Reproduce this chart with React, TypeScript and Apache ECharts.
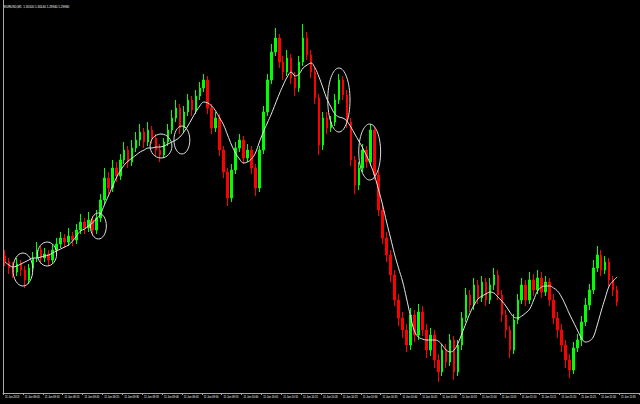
import React, { useEffect, useRef } from "react";
import * as echarts from "echarts";

const symbolName = "EURUSD,M1";

const openPrices = [
  1.3044,1.3038,1.3032,1.3028,1.3036,1.3030,1.3020,1.3032,1.3042,1.3050,
  1.3042,1.3046,1.3040,1.3050,1.3056,1.3062,1.3058,1.3064,1.3060,1.3070,
  1.3078,1.3072,1.3080,1.3070,1.3082,1.3100,1.3122,1.3112,1.3132,1.3124,
  1.3140,1.3150,1.3138,1.3152,1.3160,1.3168,1.3158,1.3170,1.3162,1.3150,
  1.3145,1.3158,1.3170,1.3182,1.3192,1.3172,1.3188,1.3200,1.3190,1.3204,
  1.3212,1.3220,1.3192,1.3172,1.3182,1.3150,1.3128,1.3102,1.3130,1.3152,
  1.3160,1.3142,1.3150,1.3132,1.3112,1.3150,1.3188,1.3220,1.3248,1.3262,
  1.3238,1.3228,1.3242,1.3222,1.3212,1.3238,1.3262,1.3245,1.3228,1.3202,
  1.3155,1.3182,1.3172,1.3178,1.3200,1.3220,1.3205,1.3178,1.3140,1.3115,
  1.3132,1.3150,1.3138,1.3170,1.3125,1.3090,1.3062,1.3045,1.3025,1.3000,
  1.2982,1.2970,1.2955,1.2985,1.2965,1.2988,1.2970,1.2950,1.2965,1.2940,
  1.2928,1.2950,1.2938,1.2960,1.2928,1.2955,1.2982,1.3005,1.2995,1.3015,
  1.3002,1.3018,1.3000,1.3015,1.3025,1.3005,1.2985,1.2970,1.2950,1.2980,
  1.3000,1.3015,1.3000,1.3020,1.3010,1.3022,1.3008,1.3018,1.3000,1.2982,
  1.2970,1.2955,1.2940,1.2930,1.2952,1.2960,1.2978,1.2995,1.3010,1.3032,
  1.3045,1.3030,1.3038,1.3020,1.3010,
];

const closePrices = [
  1.3038,1.3032,1.3028,1.3036,1.3030,1.3020,1.3032,1.3042,1.3050,1.3042,
  1.3046,1.3040,1.3050,1.3056,1.3062,1.3058,1.3064,1.3060,1.3070,1.3078,
  1.3072,1.3080,1.3070,1.3082,1.3100,1.3122,1.3112,1.3132,1.3124,1.3140,
  1.3150,1.3138,1.3152,1.3160,1.3168,1.3158,1.3170,1.3162,1.3150,1.3145,
  1.3158,1.3170,1.3182,1.3192,1.3172,1.3188,1.3200,1.3190,1.3204,1.3212,
  1.3220,1.3192,1.3172,1.3182,1.3150,1.3128,1.3102,1.3130,1.3152,1.3160,
  1.3142,1.3150,1.3132,1.3112,1.3150,1.3188,1.3220,1.3248,1.3262,1.3238,
  1.3228,1.3242,1.3222,1.3212,1.3238,1.3262,1.3245,1.3228,1.3202,1.3155,
  1.3182,1.3172,1.3178,1.3200,1.3220,1.3205,1.3178,1.3140,1.3115,1.3132,
  1.3150,1.3138,1.3170,1.3125,1.3090,1.3062,1.3045,1.3025,1.3000,1.2982,
  1.2970,1.2955,1.2985,1.2965,1.2988,1.2970,1.2950,1.2965,1.2940,1.2928,
  1.2950,1.2938,1.2960,1.2928,1.2955,1.2982,1.3005,1.2995,1.3015,1.3002,
  1.3018,1.3000,1.3015,1.3025,1.3005,1.2985,1.2970,1.2950,1.2980,1.3000,
  1.3015,1.3000,1.3020,1.3010,1.3022,1.3008,1.3018,1.3000,1.2982,1.2970,
  1.2955,1.2940,1.2930,1.2952,1.2960,1.2978,1.2995,1.3010,1.3032,1.3045,
  1.3030,1.3038,1.3020,1.3010,1.2998,
];

const highPrices = [
  1.3050,1.3042,1.3038,1.3042,1.3040,1.3034,1.3036,1.3048,1.3058,1.3054,
  1.3052,1.3050,1.3056,1.3062,1.3068,1.3066,1.3072,1.3068,1.3076,1.3086,
  1.3082,1.3088,1.3084,1.3090,1.3106,1.3132,1.3128,1.3140,1.3138,1.3146,
  1.3158,1.3154,1.3160,1.3168,1.3176,1.3172,1.3178,1.3174,1.3166,1.3156,
  1.3162,1.3176,1.3190,1.3200,1.3196,1.3194,1.3206,1.3204,1.3210,1.3218,
  1.3226,1.3224,1.3196,1.3188,1.3186,1.3154,1.3132,1.3136,1.3158,1.3166,
  1.3164,1.3156,1.3154,1.3136,1.3154,1.3194,1.3226,1.3256,1.3272,1.3266,
  1.3244,1.3250,1.3246,1.3228,1.3244,1.3276,1.3268,1.3250,1.3232,1.3206,
  1.3188,1.3188,1.3184,1.3206,1.3226,1.3224,1.3210,1.3182,1.3144,1.3138,
  1.3156,1.3154,1.3176,1.3174,1.3130,1.3094,1.3068,1.3050,1.3030,1.3006,
  1.2988,1.2976,1.2992,1.2990,1.2996,1.2994,1.2976,1.2972,1.2970,1.2946,
  1.2956,1.2956,1.2966,1.2964,1.2960,1.2988,1.3012,1.3010,1.3022,1.3020,
  1.3024,1.3022,1.3022,1.3032,1.3030,1.3010,1.2990,1.2974,1.2986,1.3006,
  1.3022,1.3020,1.3028,1.3026,1.3030,1.3028,1.3024,1.3022,1.3006,1.2988,
  1.2976,1.2960,1.2946,1.2958,1.2966,1.2984,1.3002,1.3016,1.3040,1.3054,
  1.3050,1.3044,1.3042,1.3024,1.3014,
];

const lowPrices = [
  1.3034,1.3026,1.3022,1.3024,1.3024,1.3012,1.3016,1.3028,1.3038,1.3036,
  1.3038,1.3034,1.3036,1.3046,1.3052,1.3052,1.3054,1.3054,1.3056,1.3066,
  1.3066,1.3068,1.3064,1.3066,1.3078,1.3096,1.3106,1.3108,1.3118,1.3120,
  1.3136,1.3132,1.3134,1.3148,1.3154,1.3152,1.3154,1.3156,1.3144,1.3138,
  1.3142,1.3154,1.3166,1.3178,1.3166,1.3168,1.3184,1.3184,1.3186,1.3200,
  1.3208,1.3186,1.3166,1.3168,1.3144,1.3122,1.3094,1.3098,1.3126,1.3148,
  1.3136,1.3138,1.3126,1.3104,1.3108,1.3146,1.3184,1.3216,1.3244,1.3232,
  1.3220,1.3224,1.3216,1.3204,1.3208,1.3234,1.3240,1.3222,1.3196,1.3145,
  1.3150,1.3166,1.3168,1.3174,1.3196,1.3200,1.3172,1.3134,1.3106,1.3110,
  1.3128,1.3132,1.3134,1.3120,1.3084,1.3056,1.3038,1.3018,1.2994,1.2974,
  1.2962,1.2948,1.2950,1.2958,1.2960,1.2964,1.2942,1.2944,1.2932,1.2918,
  1.2924,1.2932,1.2934,1.2920,1.2924,1.2950,1.2978,1.2988,1.2990,1.2996,
  1.2998,1.2994,1.2996,1.3010,1.3000,1.2978,1.2962,1.2942,1.2946,1.2976,
  1.2996,1.2994,1.2996,1.3004,1.3006,1.3002,1.3004,1.2994,1.2976,1.2962,
  1.2948,1.2932,1.2922,1.2926,1.2948,1.2954,1.2974,1.2990,1.3006,1.3028,
  1.3024,1.3026,1.3014,1.3004,1.2994,
];

const maLine = [
  1.3038,1.3035,1.3033,1.3034,1.3036,1.3038,1.3040,1.3042,1.3042,1.3043,
  1.3044,1.3045,1.3047,1.3049,1.3051,1.3053,1.3055,1.3059,1.3064,1.3069,
  1.3071,1.3074,1.3077,1.3081,1.3086,1.3095,1.3104,1.3113,1.3122,1.3129,
  1.3135,1.3139,1.3142,1.3145,1.3148,1.3150,1.3152,1.3152,1.3153,1.3153,
  1.3154,1.3156,1.3158,1.3160,1.3163,1.3168,1.3174,1.3181,1.3188,1.3194,
  1.3198,1.3197,1.3194,1.3189,1.3182,1.3175,1.3165,1.3155,1.3147,1.3141,
  1.3137,1.3138,1.3141,1.3147,1.3158,1.3168,1.3177,1.3186,1.3196,1.3206,
  1.3215,1.3223,1.3228,1.3224,1.3226,1.3232,1.3235,1.3237,1.3232,1.3223,
  1.3212,1.3201,1.3193,1.3186,1.3183,1.3182,1.3179,1.3173,1.3166,1.3159,
  1.3152,1.3144,1.3135,1.3124,1.3110,1.3095,1.3078,1.3062,1.3046,1.3032,
  1.3019,1.3002,1.2984,1.2969,1.2963,1.2961,1.2960,1.2960,1.2960,1.2959,
  1.2955,1.2950,1.2948,1.2950,1.2957,1.2967,1.2977,1.2987,1.2995,1.3001,
  1.3004,1.3006,1.3008,1.3007,1.3003,1.2999,1.2994,1.2988,1.2983,1.2982,
  1.2984,1.2987,1.2991,1.3000,1.3009,1.3013,1.3014,1.3014,1.3012,1.3009,
  1.3003,1.2995,1.2986,1.2978,1.2970,1.2962,1.2958,1.2959,1.2963,1.2975,
  1.2989,1.3002,1.3014,1.3019,1.3023,
];

const xTickLabels = [
  "11 Jun 2013", "11 Jun 09:05", "11 Jun 09:10", "11 Jun 09:15", "11 Jun 09:20",
  "11 Jun 09:25", "11 Jun 09:30", "11 Jun 09:35", "11 Jun 09:40", "11 Jun 09:45",
  "11 Jun 09:50", "11 Jun 09:55", "11 Jun 10:00", "11 Jun 10:05", "11 Jun 10:10",
  "11 Jun 10:15", "11 Jun 10:20", "11 Jun 10:25", "11 Jun 10:30", "11 Jun 10:35",
  "11 Jun 10:40", "11 Jun 10:45", "11 Jun 10:50", "11 Jun 10:55", "11 Jun 11:00",
  "11 Jun 11:05", "11 Jun 11:10", "11 Jun 11:15", "11 Jun 11:20", "11 Jun 11:25",
  "11 Jun 11:30", "11 Jun 11:35",
];

// Annotation ellipses (bar index / price centre, radii in bars / price)
const ellipseBarCenters = [4.5, 10.6, 23.5, 39.25, 44.5, 84.0, 91.75];
const ellipsePriceCenters = [1.30305, 1.3046, 1.3074, 1.3154, 1.316, 1.32, 1.3148];
const ellipseBarRadii = [2.5, 2.4, 2.0, 2.75, 2.0, 2.8, 2.75];
const ellipsePriceRadii = [0.00165, 0.0012, 0.0013, 0.0012, 0.0014, 0.0032, 0.0028];

const labelsEvery = 5;
const paddingBars = 5;
const priceMin = 1.2907;
const priceMax = 1.33;

export default function App() {
  const ref = useRef<HTMLDivElement>(null);
  useEffect(() => {
    if (!ref.current) return;
    const chart = echarts.init(ref.current, null, { renderer: "svg" });
    const n = closePrices.length;
    const categories = Array.from({ length: n + paddingBars }, (_, i) => String(i));
    const candles = closePrices.map((c, i) => [openPrices[i], c, lowPrices[i], highPrices[i]]);
    const font = "Liberation Sans, Arial, sans-serif";

    chart.setOption({
      animation: false,
      backgroundColor: "#000000",
      grid: { left: 3, right: 1, top: 0, bottom: 11, outerBoundsMode: "none" },
      xAxis: {
        type: "category",
        data: categories,
        boundaryGap: true,
        axisLine: { show: true, onZero: false, lineStyle: { color: "#a8a8a8", width: 1 } },
        axisTick: { show: true, interval: labelsEvery - 1, length: 2, lineStyle: { color: "#a8a8a8" } },
        axisLabel: {
          show: true,
          interval: labelsEvery - 1,
          align: "left",
          margin: 3,
          color: "#ffffff",
          fontSize: 2.6,
          fontFamily: font,
          formatter: (_v: string, idx: number) => xTickLabels[idx / labelsEvery] ?? "",
        },
        splitLine: { show: false },
      },
      yAxis: {
        type: "value",
        min: priceMin,
        max: priceMax,
        position: "left",
        axisLine: { show: true, onZero: false, lineStyle: { color: "#a8a8a8", width: 1 } },
        axisTick: { show: false },
        axisLabel: { show: false },
        splitLine: { show: false },
      },
      series: [
        {
          type: "candlestick",
          data: candles,
          barWidth: 2,
          itemStyle: {
            color: "#00ff00",
            color0: "#ff0000",
            borderColor: "#00ff00",
            borderColor0: "#ff0000",
            borderWidth: 1,
          },
          z: 2,
        },
        {
          type: "line",
          data: maLine,
          smooth: 0.4,
          symbol: "none",
          showSymbol: false,
          lineStyle: { color: "#e6e6e6", width: 1 },
          z: 3,
        },
      ],
    });

    const x0 = chart.convertToPixel({ xAxisIndex: 0 }, 0) as number;
    const x1 = chart.convertToPixel({ xAxisIndex: 0 }, 1) as number;
    const step = x1 - x0;
    const ellipses = ellipseBarCenters.map((b, i) => {
      const cy = chart.convertToPixel({ yAxisIndex: 0 }, ellipsePriceCenters[i]) as number;
      const cyTop = chart.convertToPixel({ yAxisIndex: 0 }, ellipsePriceCenters[i] + ellipsePriceRadii[i]) as number;
      return {
        type: "ellipse",
        shape: { cx: x0 + b * step, cy, rx: ellipseBarRadii[i] * step, ry: Math.abs(cy - cyTop) },
        style: { fill: "none", stroke: "#e0e0e0", lineWidth: 1 },
        z: 10,
      };
    });
    const last = n - 1;
    const title = `${symbolName}  ${openPrices[last].toFixed(5)} ${highPrices[last].toFixed(5)} ${lowPrices[last].toFixed(5)} ${closePrices[last].toFixed(5)}`;
    chart.setOption({
      graphic: [
        {
          type: "text",
          left: 4,
          top: 5,
          style: { text: title, fill: "#ffffff", fontSize: 3, fontFamily: font },
          z: 10,
        },
        ...ellipses,
      ],
    });

    return () => chart.dispose();
  }, []);
  return <div ref={ref} style={{ position: "fixed", left: 0, top: 0, width: 640, height: 404 }} />;
}
